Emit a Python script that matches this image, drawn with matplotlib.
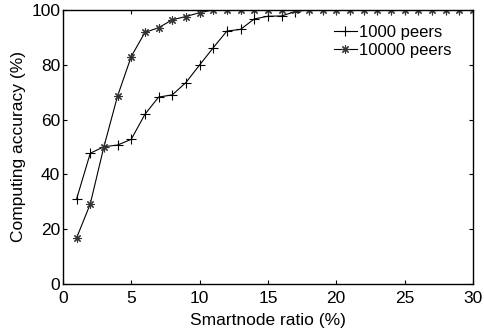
import matplotlib
matplotlib.use("Agg")
import matplotlib.pyplot as plt

plt.rcParams["font.family"] = ["Liberation Sans", "DejaVu Sans"]

ratio = list(range(1, 31))
acc_1000 = [31.0, 47.7, 50.1, 50.7, 52.8, 61.9, 68.2, 69.0, 73.5, 79.9,
            86.2, 92.3, 92.9, 96.7, 97.7, 97.8, 99.4] + [100.0] * 13
acc_10000 = [16.8, 29.2, 50.1, 68.6, 83.0, 91.8, 93.5, 96.4, 97.6, 99.0] + [100.0] * 20

fig = plt.figure(figsize=(4.84, 3.31), dpi=100)
ax = fig.add_axes([0.130, 0.142, 0.847, 0.828])

ax.plot(ratio, acc_1000, color="black", linewidth=0.8, marker="+",
        markersize=7, markeredgewidth=0.8, label="1000 peers")
ax.plot(ratio, acc_10000, color="black", linewidth=0.8, marker=(8, 2, 0),
        markersize=6, markeredgewidth=0.8, markeredgecolor="0.2",
        label="10000 peers")

ax.set_xlim(0, 30)
ax.set_ylim(0, 100)
ax.set_xticks(range(0, 31, 5))
ax.set_yticks(range(0, 101, 20))
ax.tick_params(direction="in", top=True, right=True, labelsize=12.5, length=3)
ax.tick_params(axis="x", pad=5)
ax.tick_params(axis="y", pad=2)
for s in ax.spines.values():
    s.set_linewidth(1.0)
ax.set_xlabel("Smartnode ratio (%)", fontsize=12.5, labelpad=5)
ax.set_ylabel("Computing accuracy (%)", fontsize=12.5, labelpad=4)
ax.legend(loc="upper right", frameon=False, fontsize=12, handlelength=1.4,
          handletextpad=0.15, borderaxespad=0.0, labelspacing=0.2,
          bbox_to_anchor=(0.965, 0.97))

fig.savefig("out.png", dpi=100)
